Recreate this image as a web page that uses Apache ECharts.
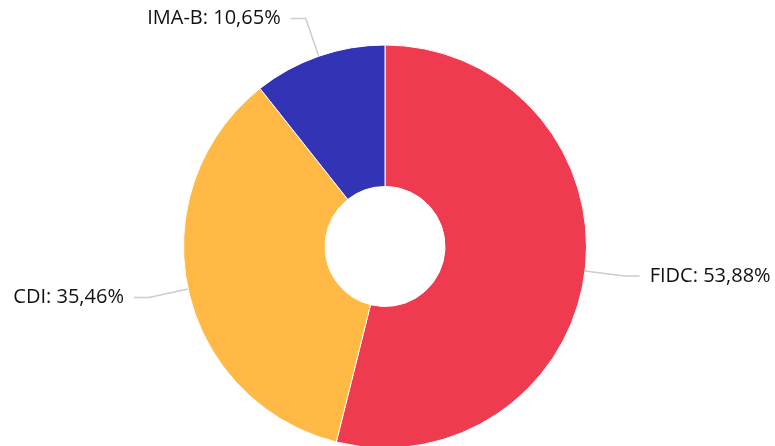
<!DOCTYPE html>
<html><head><meta charset="utf-8">
<script src="https://cdn.jsdelivr.net/npm/echarts@6/dist/echarts.min.js"></script>
<style>html,body{margin:0;padding:0;background:#fff}#c{width:775px;height:446px}</style>
</head><body><div id="c"></div>
<script>
const categories = ["FIDC", "CDI", "IMA-B"];
const values = [53.88, 35.46, 10.65];
const colors = ["#EF3B50", "#FFB944", "#3333B5"];
const chart = echarts.init(document.getElementById('c'), null, {renderer: 'canvas'});
chart.setOption({
  animation: false,
  series: [{
    type: 'pie',
    center: [385, 246.5],
    radius: [60, 201.5],
    startAngle: 90,
    clockwise: true,
    data: categories.map((c, i) => ({name: c, value: values[i], itemStyle: {color: colors[i]}})),
    itemStyle: {borderColor: '#fff', borderWidth: 1},
    label: {
      formatter: p => p.name + ': ' + p.value.toFixed(2).replace('.', ',') + '%',
      fontFamily: 'Open Sans', fontSize: 20, color: '#111', overflow: 'none',
      padding: [4, 5, 0, 5]
    },
    labelLine: {length: 40, length2: 15, lineStyle: {color: '#ccc', width: 1.5}}
  }]
});
</script></body></html>
